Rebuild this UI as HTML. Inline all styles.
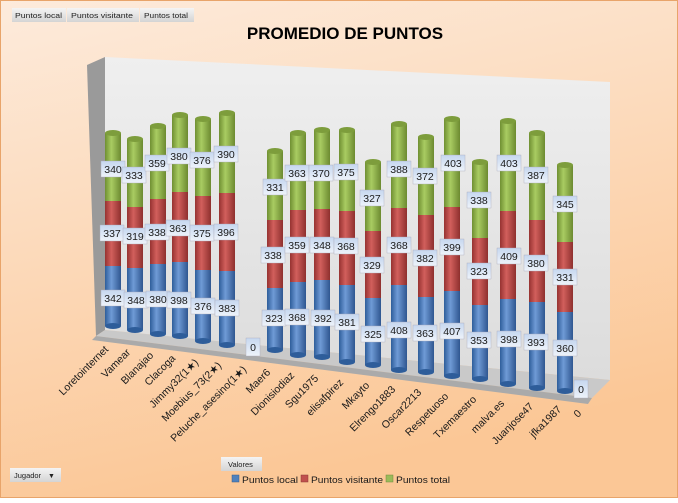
<!DOCTYPE html>
<html><head><meta charset="utf-8"><style>
body{margin:0;width:678px;height:498px;overflow:hidden;font-family:"Liberation Sans",sans-serif}
</style></head><body>
<svg width="678" height="498" viewBox="0 0 678 498" xmlns="http://www.w3.org/2000/svg" font-family="Liberation Sans, sans-serif">
<defs>
<linearGradient id="bg" x1="0" y1="0" x2="0.3" y2="1"><stop offset="0" stop-color="#fdebdc"/><stop offset="1" stop-color="#fbc796"/></linearGradient>
<linearGradient id="wall" x1="0" y1="0" x2="0" y2="1"><stop offset="0" stop-color="#efefef"/><stop offset="1" stop-color="#dcdcdc"/></linearGradient>
<linearGradient id="gB" x1="0" x2="1"><stop offset="0" stop-color="#2e5d9a"/><stop offset="0.4" stop-color="#6f9bd6"/><stop offset="1" stop-color="#2f5690"/></linearGradient>
<linearGradient id="gR" x1="0" x2="1"><stop offset="0" stop-color="#963231"/><stop offset="0.4" stop-color="#d25f5c"/><stop offset="1" stop-color="#8e302e"/></linearGradient>
<linearGradient id="gG" x1="0" x2="1"><stop offset="0" stop-color="#6f8f32"/><stop offset="0.4" stop-color="#a9cc62"/><stop offset="1" stop-color="#6c8a30"/></linearGradient>
<linearGradient id="lb" x1="0" y1="0" x2="0" y2="1"><stop offset="0" stop-color="#c6d7ef"/><stop offset="1" stop-color="#eef3fa"/></linearGradient>
<linearGradient id="btn" x1="0" y1="0" x2="0" y2="1"><stop offset="0" stop-color="#f4f4f4"/><stop offset="1" stop-color="#d4d4d4"/></linearGradient>
</defs>
<rect x="0.5" y="0.5" width="677" height="497" fill="url(#bg)" stroke="#e8a46a"/>
<g font-size="7.5" fill="#222">
<rect x="12" y="8" width="54" height="14" fill="url(#btn)"/><text x="15" y="18" textLength="47" lengthAdjust="spacingAndGlyphs">Puntos local</text>
<rect x="67" y="8" width="72" height="14" fill="url(#btn)"/><text x="71" y="18" textLength="62" lengthAdjust="spacingAndGlyphs">Puntos visitante</text>
<rect x="140" y="8" width="54" height="14" fill="url(#btn)"/><text x="144" y="18" textLength="44" lengthAdjust="spacingAndGlyphs">Puntos total</text>
<rect x="221" y="457" width="41" height="14" fill="url(#btn)"/><text x="228" y="467">Valores</text>
<rect x="10" y="468" width="51" height="14" fill="url(#btn)"/><text x="14" y="478">Jugador</text><text x="48" y="478" font-size="7">▼</text>
</g>
<text x="345" y="39" font-size="17" font-weight="bold" text-anchor="middle" fill="#000">PROMEDIO DE PUNTOS</text>
<polygon points="105,57 610,82 610,380 105,330" fill="url(#wall)"/>
<polygon points="87,65 105,57 105,330 96,336" fill="#9a9a9a"/>
<polygon points="96,336 105,330 610,380 592,398" fill="#c9c9c9"/>
<polygon points="92,340 96,336 592,398 588,404" fill="#aaa"/>
<g>
<g transform="translate(113,0)"><rect x="-8" y="266" width="16" height="60" fill="url(#gB)"/><ellipse cx="0" cy="326" rx="8" ry="3" fill="#2e5d9a"/><rect x="-8" y="201" width="16" height="65" fill="url(#gR)"/><rect x="-8" y="133" width="16" height="68" fill="url(#gG)"/><ellipse cx="0" cy="133" rx="8" ry="3" fill="#7d9d3c"/></g>
<g transform="translate(135,0)"><rect x="-8" y="268" width="16" height="62" fill="url(#gB)"/><ellipse cx="0" cy="330" rx="8" ry="3" fill="#2e5d9a"/><rect x="-8" y="207" width="16" height="61" fill="url(#gR)"/><rect x="-8" y="139" width="16" height="68" fill="url(#gG)"/><ellipse cx="0" cy="139" rx="8" ry="3" fill="#7d9d3c"/></g>
<g transform="translate(158,0)"><rect x="-8" y="264" width="16" height="70" fill="url(#gB)"/><ellipse cx="0" cy="334" rx="8" ry="3" fill="#2e5d9a"/><rect x="-8" y="199" width="16" height="65" fill="url(#gR)"/><rect x="-8" y="126" width="16" height="73" fill="url(#gG)"/><ellipse cx="0" cy="126" rx="8" ry="3" fill="#7d9d3c"/></g>
<g transform="translate(180,0)"><rect x="-8" y="262" width="16" height="74" fill="url(#gB)"/><ellipse cx="0" cy="336" rx="8" ry="3" fill="#2e5d9a"/><rect x="-8" y="192" width="16" height="70" fill="url(#gR)"/><rect x="-8" y="115" width="16" height="77" fill="url(#gG)"/><ellipse cx="0" cy="115" rx="8" ry="3" fill="#7d9d3c"/></g>
<g transform="translate(203,0)"><rect x="-8" y="270" width="16" height="71" fill="url(#gB)"/><ellipse cx="0" cy="341" rx="8" ry="3" fill="#2e5d9a"/><rect x="-8" y="196" width="16" height="74" fill="url(#gR)"/><rect x="-8" y="119" width="16" height="77" fill="url(#gG)"/><ellipse cx="0" cy="119" rx="8" ry="3" fill="#7d9d3c"/></g>
<g transform="translate(227,0)"><rect x="-8" y="271" width="16" height="74" fill="url(#gB)"/><ellipse cx="0" cy="345" rx="8" ry="3" fill="#2e5d9a"/><rect x="-8" y="193" width="16" height="78" fill="url(#gR)"/><rect x="-8" y="113" width="16" height="80" fill="url(#gG)"/><ellipse cx="0" cy="113" rx="8" ry="3" fill="#7d9d3c"/></g>
<g transform="translate(275,0)"><rect x="-8" y="288" width="16" height="62" fill="url(#gB)"/><ellipse cx="0" cy="350" rx="8" ry="3" fill="#2e5d9a"/><rect x="-8" y="220" width="16" height="68" fill="url(#gR)"/><rect x="-8" y="151" width="16" height="69" fill="url(#gG)"/><ellipse cx="0" cy="151" rx="8" ry="3" fill="#7d9d3c"/></g>
<g transform="translate(298,0)"><rect x="-8" y="282" width="16" height="73" fill="url(#gB)"/><ellipse cx="0" cy="355" rx="8" ry="3" fill="#2e5d9a"/><rect x="-8" y="210" width="16" height="72" fill="url(#gR)"/><rect x="-8" y="133" width="16" height="77" fill="url(#gG)"/><ellipse cx="0" cy="133" rx="8" ry="3" fill="#7d9d3c"/></g>
<g transform="translate(322,0)"><rect x="-8" y="280" width="16" height="77" fill="url(#gB)"/><ellipse cx="0" cy="357" rx="8" ry="3" fill="#2e5d9a"/><rect x="-8" y="209" width="16" height="71" fill="url(#gR)"/><rect x="-8" y="130" width="16" height="79" fill="url(#gG)"/><ellipse cx="0" cy="130" rx="8" ry="3" fill="#7d9d3c"/></g>
<g transform="translate(347,0)"><rect x="-8" y="285" width="16" height="77" fill="url(#gB)"/><ellipse cx="0" cy="362" rx="8" ry="3" fill="#2e5d9a"/><rect x="-8" y="211" width="16" height="74" fill="url(#gR)"/><rect x="-8" y="130" width="16" height="81" fill="url(#gG)"/><ellipse cx="0" cy="130" rx="8" ry="3" fill="#7d9d3c"/></g>
<g transform="translate(373,0)"><rect x="-8" y="298" width="16" height="67" fill="url(#gB)"/><ellipse cx="0" cy="365" rx="8" ry="3" fill="#2e5d9a"/><rect x="-8" y="231" width="16" height="67" fill="url(#gR)"/><rect x="-8" y="162" width="16" height="69" fill="url(#gG)"/><ellipse cx="0" cy="162" rx="8" ry="3" fill="#7d9d3c"/></g>
<g transform="translate(399,0)"><rect x="-8" y="285" width="16" height="85" fill="url(#gB)"/><ellipse cx="0" cy="370" rx="8" ry="3" fill="#2e5d9a"/><rect x="-8" y="208" width="16" height="77" fill="url(#gR)"/><rect x="-8" y="124" width="16" height="84" fill="url(#gG)"/><ellipse cx="0" cy="124" rx="8" ry="3" fill="#7d9d3c"/></g>
<g transform="translate(426,0)"><rect x="-8" y="297" width="16" height="75" fill="url(#gB)"/><ellipse cx="0" cy="372" rx="8" ry="3" fill="#2e5d9a"/><rect x="-8" y="215" width="16" height="82" fill="url(#gR)"/><rect x="-8" y="137" width="16" height="78" fill="url(#gG)"/><ellipse cx="0" cy="137" rx="8" ry="3" fill="#7d9d3c"/></g>
<g transform="translate(452,0)"><rect x="-8" y="291" width="16" height="85" fill="url(#gB)"/><ellipse cx="0" cy="376" rx="8" ry="3" fill="#2e5d9a"/><rect x="-8" y="207" width="16" height="84" fill="url(#gR)"/><rect x="-8" y="119" width="16" height="88" fill="url(#gG)"/><ellipse cx="0" cy="119" rx="8" ry="3" fill="#7d9d3c"/></g>
<g transform="translate(480,0)"><rect x="-8" y="305" width="16" height="74" fill="url(#gB)"/><ellipse cx="0" cy="379" rx="8" ry="3" fill="#2e5d9a"/><rect x="-8" y="238" width="16" height="67" fill="url(#gR)"/><rect x="-8" y="162" width="16" height="76" fill="url(#gG)"/><ellipse cx="0" cy="162" rx="8" ry="3" fill="#7d9d3c"/></g>
<g transform="translate(508,0)"><rect x="-8" y="299" width="16" height="85" fill="url(#gB)"/><ellipse cx="0" cy="384" rx="8" ry="3" fill="#2e5d9a"/><rect x="-8" y="211" width="16" height="88" fill="url(#gR)"/><rect x="-8" y="121" width="16" height="90" fill="url(#gG)"/><ellipse cx="0" cy="121" rx="8" ry="3" fill="#7d9d3c"/></g>
<g transform="translate(537,0)"><rect x="-8" y="302" width="16" height="86" fill="url(#gB)"/><ellipse cx="0" cy="388" rx="8" ry="3" fill="#2e5d9a"/><rect x="-8" y="220" width="16" height="82" fill="url(#gR)"/><rect x="-8" y="133" width="16" height="87" fill="url(#gG)"/><ellipse cx="0" cy="133" rx="8" ry="3" fill="#7d9d3c"/></g>
<g transform="translate(565,0)"><rect x="-8" y="312" width="16" height="79" fill="url(#gB)"/><ellipse cx="0" cy="391" rx="8" ry="3" fill="#2e5d9a"/><rect x="-8" y="242" width="16" height="70" fill="url(#gR)"/><rect x="-8" y="165" width="16" height="77" fill="url(#gG)"/><ellipse cx="0" cy="165" rx="8" ry="3" fill="#7d9d3c"/></g>
</g>
<g font-size="10.5" text-anchor="middle" fill="#1a1a1a">
<g transform="translate(113,169)"><rect x="-12" y="-8" width="24" height="16" fill="url(#lb)" stroke="#aab" stroke-width=".4"/><text y="4">340</text></g>
<g transform="translate(112,233)"><rect x="-12" y="-8" width="24" height="16" fill="url(#lb)" stroke="#aab" stroke-width=".4"/><text y="4">337</text></g>
<g transform="translate(113,298)"><rect x="-12" y="-8" width="24" height="16" fill="url(#lb)" stroke="#aab" stroke-width=".4"/><text y="4">342</text></g>
<g transform="translate(134,175)"><rect x="-12" y="-8" width="24" height="16" fill="url(#lb)" stroke="#aab" stroke-width=".4"/><text y="4">333</text></g>
<g transform="translate(135,236)"><rect x="-12" y="-8" width="24" height="16" fill="url(#lb)" stroke="#aab" stroke-width=".4"/><text y="4">319</text></g>
<g transform="translate(136,300)"><rect x="-12" y="-8" width="24" height="16" fill="url(#lb)" stroke="#aab" stroke-width=".4"/><text y="4">348</text></g>
<g transform="translate(157,163)"><rect x="-12" y="-8" width="24" height="16" fill="url(#lb)" stroke="#aab" stroke-width=".4"/><text y="4">359</text></g>
<g transform="translate(157,232)"><rect x="-12" y="-8" width="24" height="16" fill="url(#lb)" stroke="#aab" stroke-width=".4"/><text y="4">338</text></g>
<g transform="translate(158,299)"><rect x="-12" y="-8" width="24" height="16" fill="url(#lb)" stroke="#aab" stroke-width=".4"/><text y="4">380</text></g>
<g transform="translate(179,156)"><rect x="-12" y="-8" width="24" height="16" fill="url(#lb)" stroke="#aab" stroke-width=".4"/><text y="4">380</text></g>
<g transform="translate(178,228)"><rect x="-12" y="-8" width="24" height="16" fill="url(#lb)" stroke="#aab" stroke-width=".4"/><text y="4">363</text></g>
<g transform="translate(179,300)"><rect x="-12" y="-8" width="24" height="16" fill="url(#lb)" stroke="#aab" stroke-width=".4"/><text y="4">398</text></g>
<g transform="translate(202,160)"><rect x="-12" y="-8" width="24" height="16" fill="url(#lb)" stroke="#aab" stroke-width=".4"/><text y="4">376</text></g>
<g transform="translate(202,233)"><rect x="-12" y="-8" width="24" height="16" fill="url(#lb)" stroke="#aab" stroke-width=".4"/><text y="4">375</text></g>
<g transform="translate(203,306)"><rect x="-12" y="-8" width="24" height="16" fill="url(#lb)" stroke="#aab" stroke-width=".4"/><text y="4">376</text></g>
<g transform="translate(226,154)"><rect x="-12" y="-8" width="24" height="16" fill="url(#lb)" stroke="#aab" stroke-width=".4"/><text y="4">390</text></g>
<g transform="translate(226,232)"><rect x="-12" y="-8" width="24" height="16" fill="url(#lb)" stroke="#aab" stroke-width=".4"/><text y="4">396</text></g>
<g transform="translate(227,308)"><rect x="-12" y="-8" width="24" height="16" fill="url(#lb)" stroke="#aab" stroke-width=".4"/><text y="4">383</text></g>
<g transform="translate(253,347)"><rect x="-7" y="-9" width="14" height="18" fill="url(#lb)" stroke="#aab" stroke-width=".4"/><text y="4">0</text></g>
<g transform="translate(275,187)"><rect x="-12" y="-8" width="24" height="16" fill="url(#lb)" stroke="#aab" stroke-width=".4"/><text y="4">331</text></g>
<g transform="translate(273,255)"><rect x="-12" y="-8" width="24" height="16" fill="url(#lb)" stroke="#aab" stroke-width=".4"/><text y="4">338</text></g>
<g transform="translate(274,318)"><rect x="-12" y="-8" width="24" height="16" fill="url(#lb)" stroke="#aab" stroke-width=".4"/><text y="4">323</text></g>
<g transform="translate(297,173)"><rect x="-12" y="-8" width="24" height="16" fill="url(#lb)" stroke="#aab" stroke-width=".4"/><text y="4">363</text></g>
<g transform="translate(297,245)"><rect x="-12" y="-8" width="24" height="16" fill="url(#lb)" stroke="#aab" stroke-width=".4"/><text y="4">359</text></g>
<g transform="translate(297,317)"><rect x="-12" y="-8" width="24" height="16" fill="url(#lb)" stroke="#aab" stroke-width=".4"/><text y="4">368</text></g>
<g transform="translate(321,173)"><rect x="-12" y="-8" width="24" height="16" fill="url(#lb)" stroke="#aab" stroke-width=".4"/><text y="4">370</text></g>
<g transform="translate(322,245)"><rect x="-12" y="-8" width="24" height="16" fill="url(#lb)" stroke="#aab" stroke-width=".4"/><text y="4">348</text></g>
<g transform="translate(323,318)"><rect x="-12" y="-8" width="24" height="16" fill="url(#lb)" stroke="#aab" stroke-width=".4"/><text y="4">392</text></g>
<g transform="translate(346,172)"><rect x="-12" y="-8" width="24" height="16" fill="url(#lb)" stroke="#aab" stroke-width=".4"/><text y="4">375</text></g>
<g transform="translate(346,246)"><rect x="-12" y="-8" width="24" height="16" fill="url(#lb)" stroke="#aab" stroke-width=".4"/><text y="4">368</text></g>
<g transform="translate(347,322)"><rect x="-12" y="-8" width="24" height="16" fill="url(#lb)" stroke="#aab" stroke-width=".4"/><text y="4">381</text></g>
<g transform="translate(372,198)"><rect x="-12" y="-8" width="24" height="16" fill="url(#lb)" stroke="#aab" stroke-width=".4"/><text y="4">327</text></g>
<g transform="translate(372,265)"><rect x="-12" y="-8" width="24" height="16" fill="url(#lb)" stroke="#aab" stroke-width=".4"/><text y="4">329</text></g>
<g transform="translate(373,334)"><rect x="-12" y="-8" width="24" height="16" fill="url(#lb)" stroke="#aab" stroke-width=".4"/><text y="4">325</text></g>
<g transform="translate(399,169)"><rect x="-12" y="-8" width="24" height="16" fill="url(#lb)" stroke="#aab" stroke-width=".4"/><text y="4">388</text></g>
<g transform="translate(399,245)"><rect x="-12" y="-8" width="24" height="16" fill="url(#lb)" stroke="#aab" stroke-width=".4"/><text y="4">368</text></g>
<g transform="translate(399,330)"><rect x="-12" y="-8" width="24" height="16" fill="url(#lb)" stroke="#aab" stroke-width=".4"/><text y="4">408</text></g>
<g transform="translate(425,176)"><rect x="-12" y="-8" width="24" height="16" fill="url(#lb)" stroke="#aab" stroke-width=".4"/><text y="4">372</text></g>
<g transform="translate(425,258)"><rect x="-12" y="-8" width="24" height="16" fill="url(#lb)" stroke="#aab" stroke-width=".4"/><text y="4">382</text></g>
<g transform="translate(425,333)"><rect x="-12" y="-8" width="24" height="16" fill="url(#lb)" stroke="#aab" stroke-width=".4"/><text y="4">363</text></g>
<g transform="translate(453,163)"><rect x="-12" y="-8" width="24" height="16" fill="url(#lb)" stroke="#aab" stroke-width=".4"/><text y="4">403</text></g>
<g transform="translate(452,247)"><rect x="-12" y="-8" width="24" height="16" fill="url(#lb)" stroke="#aab" stroke-width=".4"/><text y="4">399</text></g>
<g transform="translate(452,331)"><rect x="-12" y="-8" width="24" height="16" fill="url(#lb)" stroke="#aab" stroke-width=".4"/><text y="4">407</text></g>
<g transform="translate(479,200)"><rect x="-12" y="-8" width="24" height="16" fill="url(#lb)" stroke="#aab" stroke-width=".4"/><text y="4">338</text></g>
<g transform="translate(479,271)"><rect x="-12" y="-8" width="24" height="16" fill="url(#lb)" stroke="#aab" stroke-width=".4"/><text y="4">323</text></g>
<g transform="translate(479,340)"><rect x="-12" y="-8" width="24" height="16" fill="url(#lb)" stroke="#aab" stroke-width=".4"/><text y="4">353</text></g>
<g transform="translate(509,163)"><rect x="-12" y="-8" width="24" height="16" fill="url(#lb)" stroke="#aab" stroke-width=".4"/><text y="4">403</text></g>
<g transform="translate(509,256)"><rect x="-12" y="-8" width="24" height="16" fill="url(#lb)" stroke="#aab" stroke-width=".4"/><text y="4">409</text></g>
<g transform="translate(509,339)"><rect x="-12" y="-8" width="24" height="16" fill="url(#lb)" stroke="#aab" stroke-width=".4"/><text y="4">398</text></g>
<g transform="translate(536,175)"><rect x="-12" y="-8" width="24" height="16" fill="url(#lb)" stroke="#aab" stroke-width=".4"/><text y="4">387</text></g>
<g transform="translate(536,263)"><rect x="-12" y="-8" width="24" height="16" fill="url(#lb)" stroke="#aab" stroke-width=".4"/><text y="4">380</text></g>
<g transform="translate(536,342)"><rect x="-12" y="-8" width="24" height="16" fill="url(#lb)" stroke="#aab" stroke-width=".4"/><text y="4">393</text></g>
<g transform="translate(565,204)"><rect x="-12" y="-8" width="24" height="16" fill="url(#lb)" stroke="#aab" stroke-width=".4"/><text y="4">345</text></g>
<g transform="translate(565,277)"><rect x="-12" y="-8" width="24" height="16" fill="url(#lb)" stroke="#aab" stroke-width=".4"/><text y="4">331</text></g>
<g transform="translate(565,348)"><rect x="-12" y="-8" width="24" height="16" fill="url(#lb)" stroke="#aab" stroke-width=".4"/><text y="4">360</text></g>
<g transform="translate(581,389)"><rect x="-7" y="-9" width="14" height="18" fill="url(#lb)" stroke="#aab" stroke-width=".4"/><text y="4">0</text></g>
</g>
<g font-size="10.5" text-anchor="end" fill="#1a1a1a">
<text transform="translate(109,350) rotate(-45)">Loretointernet</text>
<text transform="translate(131,353) rotate(-45)">Vamear</text>
<text transform="translate(154,356) rotate(-45)">Blanajao</text>
<text transform="translate(176,359) rotate(-45)">Clacoga</text>
<text transform="translate(199,363) rotate(-45)">Jimmy32(1★)</text>
<text transform="translate(222,366) rotate(-45)">Moebius_73(2★)</text>
<text transform="translate(247,370) rotate(-45)">Peluche_asesino(1★)</text>
<text transform="translate(271,373) rotate(-45)">Maer6</text>
<text transform="translate(295,376) rotate(-45)">Dionisiodiaz</text>
<text transform="translate(319,379) rotate(-45)">Sgu1975</text>
<text transform="translate(344,383) rotate(-45)">elisafpirez</text>
<text transform="translate(370,386) rotate(-45)">Mkayto</text>
<text transform="translate(396,390) rotate(-45)">Elrengo1883</text>
<text transform="translate(422,393) rotate(-45)">Oscar2213</text>
<text transform="translate(449,397) rotate(-45)">Respetuoso</text>
<text transform="translate(477,400) rotate(-45)">Txemaestro</text>
<text transform="translate(505,404) rotate(-45)">malva.es</text>
<text transform="translate(534,407) rotate(-45)">Juanjose47</text>
<text transform="translate(562,410) rotate(-45)">jfka1987</text>
<text transform="translate(582,414) rotate(-45)">0</text>
</g>
<g font-size="9.5" fill="#1a1a1a">
<rect x="232" y="475" width="7" height="7" fill="#4f81bd" stroke="#385d8a" stroke-width=".5"/><text x="242" y="483" textLength="56" lengthAdjust="spacingAndGlyphs">Puntos local</text>
<rect x="301" y="475" width="7" height="7" fill="#c0504d" stroke="#8c3836" stroke-width=".5"/><text x="311" y="483" textLength="72" lengthAdjust="spacingAndGlyphs">Puntos visitante</text>
<rect x="386" y="475" width="7" height="7" fill="#9bbb59" stroke="#71893f" stroke-width=".5"/><text x="396" y="483" textLength="54" lengthAdjust="spacingAndGlyphs">Puntos total</text>
</g>
</svg>
</body></html>
